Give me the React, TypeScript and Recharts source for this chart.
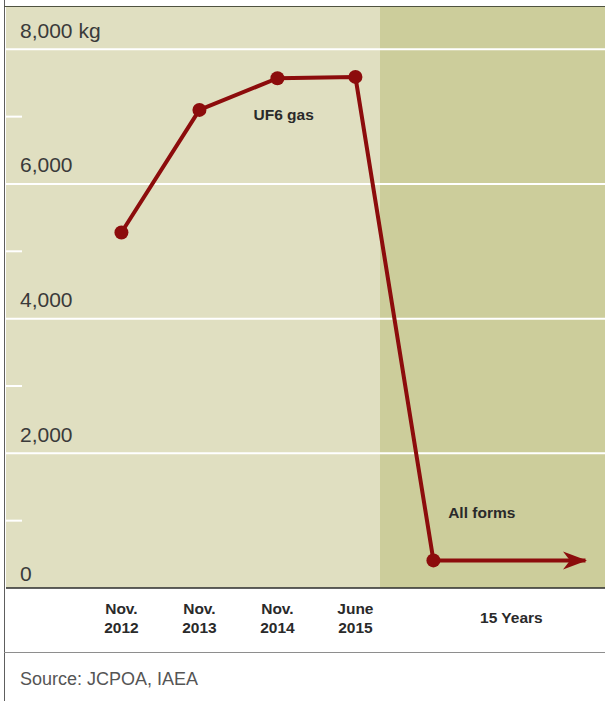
import React from "react";
import { LineChart, Line, XAxis, YAxis, CartesianGrid, ReferenceDot } from "recharts";

// period index on the x axis, 0..3 are report dates, 4 is the deal limit
const periods = [0, 1, 2, 3, 4];
const stockpileKg = [5280, 7100, 7570, 7590, 410];
const periodLabels = [
  ["Nov.", "2012"],
  ["Nov.", "2013"],
  ["Nov.", "2014"],
  ["June", "2015"],
];
const horizonX = 5;
const horizonLabel = "15 Years";
const arrowEndX = 5.95;
const shadeStartX = 3.32;

const gridValues = [2000, 4000, 6000, 8000];
const yTicks = [0, 1000, 2000, 3000, 4000, 5000, 6000, 7000, 8000];
const yLabels: Record<number, string> = { 0: "0", 2000: "2,000", 4000: "4,000", 6000: "6,000", 8000: "8,000 kg" };

const xDomain: [number, number] = [-1.48, 6.2];
const yDomain: [number, number] = [0, 8628];

const notes = [
  { x: 2.08, y: 7030, text: "UF6 gas" },
  { x: 4.62, y: 1126, text: "All forms" },
];

const mainData = periods.map((x, i) => ({ x, kg: stockpileKg[i] }));
const arrowData = [
  { x: periods[4], kg: stockpileKg[4] },
  { x: arrowEndX, kg: stockpileKg[4] },
];

const FONT = "'Liberation Sans', Arial, Helvetica, sans-serif";
const RED = "#8c0c0c";
const INK = "#2a2a2a";

function XTick(props: any) {
  const { x, y, payload } = props;
  const v = payload.value;
  const st = { fontFamily: FONT, fontWeight: 700, fontSize: 15.5, fill: INK };
  if (v === horizonX) {
    return (
      <text x={x} y={y + 35} textAnchor="middle" {...st}>
        {horizonLabel}
      </text>
    );
  }
  const lines = periodLabels[v];
  if (!lines) return <g />;
  return (
    <g>
      <text x={x} y={y + 26} textAnchor="middle" {...st}>{lines[0]}</text>
      <text x={x} y={y + 45} textAnchor="middle" {...st}>{lines[1]}</text>
    </g>
  );
}

function YTick(props: any) {
  const { x, y, payload } = props;
  const v = payload.value;
  const label = yLabels[v];
  if (label === undefined) {
    return <line x1={x} x2={x + 16} y1={y} y2={y} stroke="#ffffff" strokeWidth={2} />;
  }
  return (
    <text x={x + 14} y={y + (v === 0 ? -7 : -11.5)} textAnchor="start" fontFamily={FONT} fontSize={21} fill="#3a3a3a">
      {label}
    </text>
  );
}

function ArrowHead(props: any) {
  const { cx, cy, index } = props;
  if (index !== 1 || cx == null || cy == null) return <g key={`a${index}`} />;
  const tip = cx + 1.5;
  return (
    <path
      key={`a${index}`}
      d={`M${tip},${cy} L${tip - 24},${cy - 9} L${tip - 17},${cy} L${tip - 24},${cy + 9} Z`}
      fill={RED}
    />
  );
}

// vertical grid points only split the two background bands, no visible line
const NoLine = (p: any) => <g key={p.key ?? `${p.x1}`} />;

export default function App() {
  return (
    <div style={{ position: "absolute", left: 0, top: 0, width: 605, height: 701, background: "#fff", fontFamily: FONT }}>
      <LineChart width={605} height={701} margin={{ top: 7, right: 0, left: 5, bottom: 48 }}>
        <CartesianGrid
          vertical={NoLine}
          horizontalValues={gridValues}
          verticalValues={[xDomain[0], shadeStartX]}
          verticalFill={["#e0dfc1", "#cccd9b"]}
          fillOpacity={1}
          stroke="#ffffff"
          strokeWidth={2}
        />
        <XAxis
          dataKey="x"
          type="number"
          domain={xDomain}
          allowDataOverflow
          ticks={[0, 1, 2, 3, horizonX]}
          interval={0}
          tick={XTick}
          tickLine={false}
          tickSize={0}
          tickMargin={0}
          height={65}
          axisLine={{ stroke: "#2b2b2b", strokeWidth: 1.5 }}
        />
        <YAxis
          type="number"
          domain={yDomain}
          allowDataOverflow
          ticks={yTicks}
          interval={0}
          tick={YTick}
          tickLine={false}
          tickSize={0}
          tickMargin={0}
          axisLine={false}
          width={1}
        />
        <Line
          data={arrowData}
          dataKey="kg"
          type="linear"
          stroke={RED}
          strokeWidth={4}
          dot={ArrowHead}
          activeDot={false}
          isAnimationActive={false}
        />
        <Line
          data={mainData}
          dataKey="kg"
          type="linear"
          stroke={RED}
          strokeWidth={4}
          strokeLinejoin="round"
          dot={{ r: 7, fill: RED, stroke: "none" }}
          activeDot={false}
          isAnimationActive={false}
        />
        {notes.map((n) => (
          <ReferenceDot
            key={n.text}
            x={n.x}
            y={n.y}
            r={0}
            fill="none"
            stroke="none"
            label={{ value: n.text, position: "center", fill: INK, fontSize: 15.5, fontWeight: 700, fontFamily: FONT }}
          />
        ))}
      </LineChart>
      <div style={{ position: "absolute", left: 4, top: 0, width: 1.3, height: 701, background: "#5e5e5e" }} />
      <div style={{ position: "absolute", left: 4, top: 5.5, width: 601, height: 1.5, background: "#4f5240" }} />
      <div style={{ position: "absolute", left: 4, top: 652, width: 601, height: 1.4, background: "#8e8e8e" }} />
      <div style={{ position: "absolute", left: 20, top: 669, fontSize: 18, lineHeight: "20px", color: "#555" }}>
        Source: JCPOA, IAEA
      </div>
    </div>
  );
}
